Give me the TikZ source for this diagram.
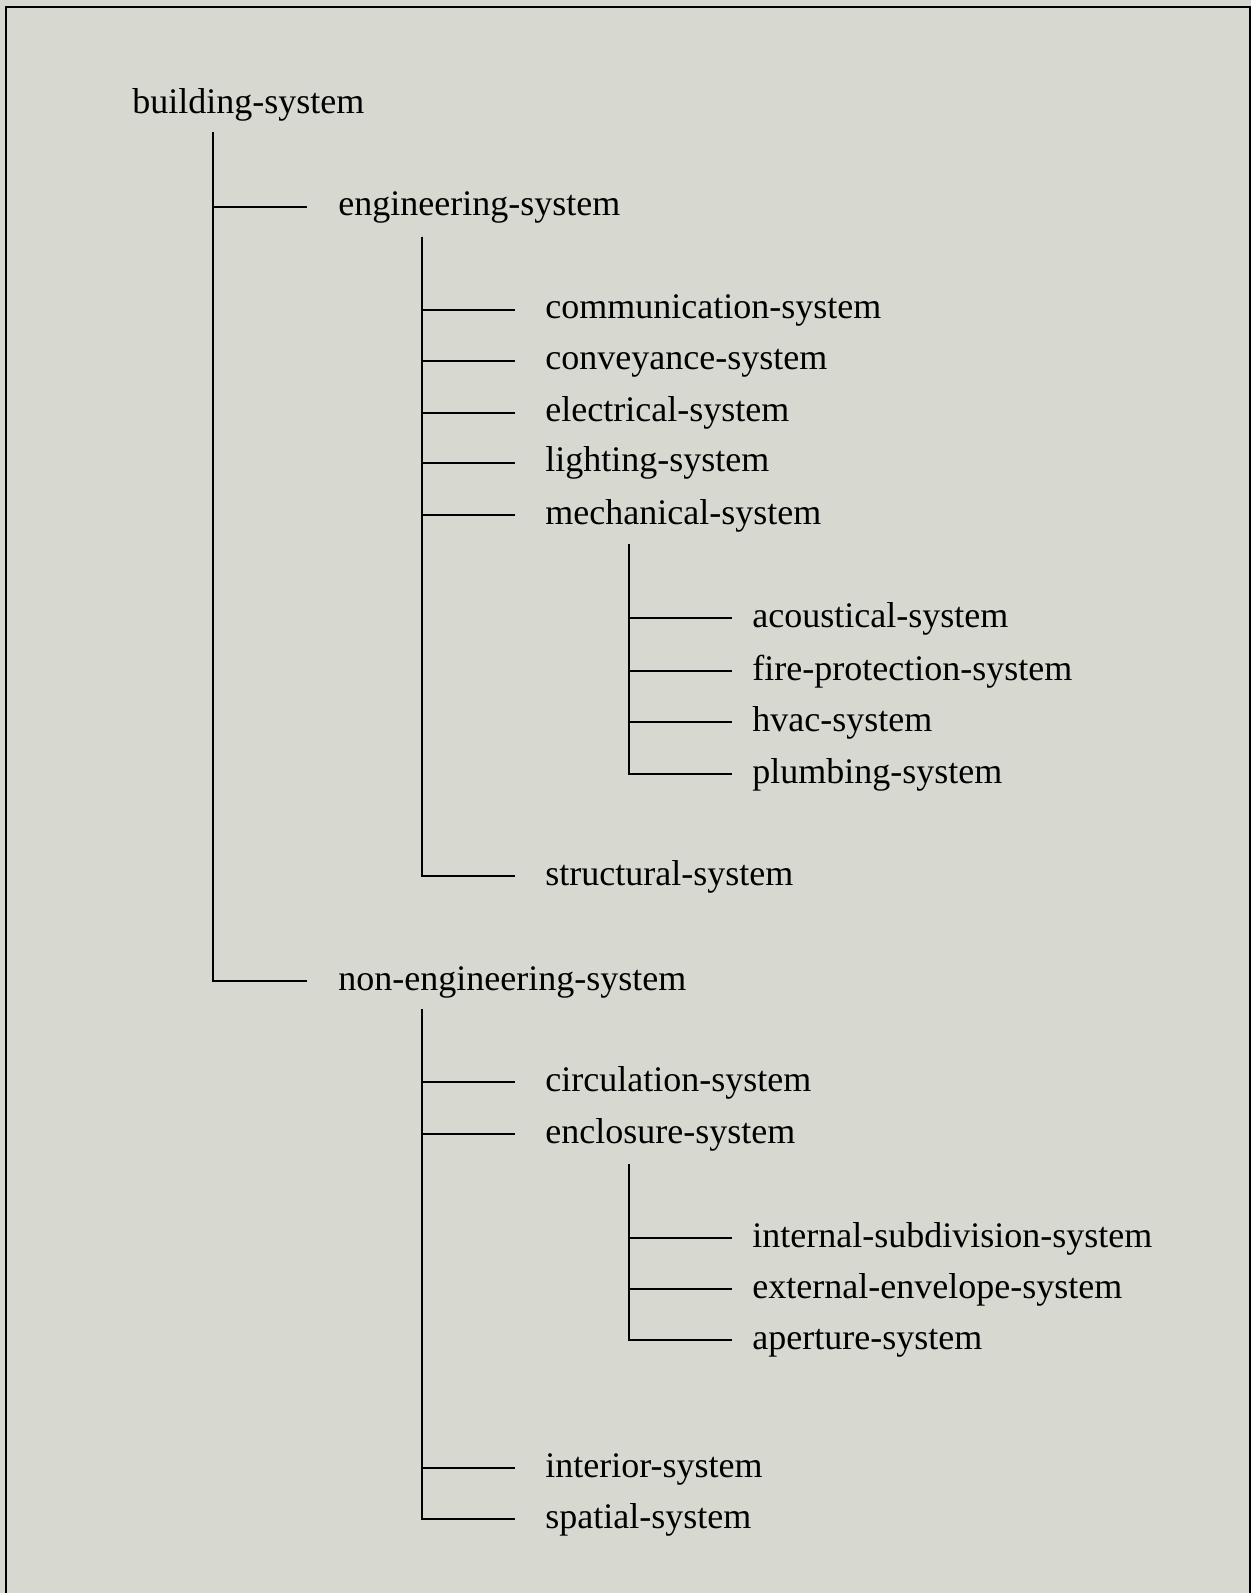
\documentclass[tikz,border=0pt]{standalone}
\usepackage{fontspec}
\setmainfont{Liberation Serif}
\definecolor{paper}{HTML}{D7D8D0}
\tikzset{
  item/.style={anchor=base west, inner sep=0pt, yshift=-4.5pt, font=\fontsize{18}{22}\selectfont},
  branch/.style={line width=0.7pt},
}
\begin{document}
\begin{tikzpicture}[x=0.5pt,y=-0.5pt]
        \useasboundingbox (0,0) rectangle (1251,1593);
        %% Page and frame
        \fill[paper] (0,0) rectangle (1251,1593);
        \draw[line width=0.9pt] (6,1593) -- (6,7) -- (1250,7) -- (1250,1593);
        %% Labels
        \node[item] (bld) at (132,105) {building-system};
        \node[item] (eng) at (338,207) {engineering-system};
        \node[item] (comm) at (545,310) {communication-system};
        \node[item] (conv) at (545,361) {conveyance-system};
        \node[item] (elec) at (545,413) {electrical-system};
        \node[item] (light) at (545,463) {lighting-system};
        \node[item] (mech) at (545,515) {mechanical-system};
        \node[item] (acou) at (752,618) {acoustical-system};
        \node[item] (fire) at (752,671) {fire-protection-system};
        \node[item] (hvac) at (752,722) {hvac-system};
        \node[item] (plumb) at (752,774) {plumbing-system};
        \node[item] (struct) at (545,876) {structural-system};
        \node[item] (noneng) at (338,981) {non-engineering-system};
        \node[item] (circ) at (545,1082) {circulation-system};
        \node[item] (encl) at (545,1134) {enclosure-system};
        \node[item] (intsub) at (752,1238) {internal-subdivision-system};
        \node[item] (extenv) at (752,1289) {external-envelope-system};
        \node[item] (apert) at (752,1340) {aperture-system};
        \node[item] (inter) at (545,1468) {interior-system};
        \node[item] (spat) at (545,1519) {spatial-system};
        %% Trunks
        \coordinate (bld-t) at (213,132);
        \coordinate (eng-t) at (422,237);
        \coordinate (mech-t) at (629,544);
        \coordinate (noneng-t) at (422,1009);
        \coordinate (encl-t) at (629,1164);
        %% Branches
        \draw[branch] (bld-t) |- ([xshift=-15.5pt,yshift=4.5pt]eng.base west);
        \draw[branch] (bld-t) |- ([xshift=-15.5pt,yshift=4.5pt]noneng.base west);
        \draw[branch] (eng-t) |- ([xshift=-15pt,yshift=4.5pt]comm.base west);
        \draw[branch] (eng-t) |- ([xshift=-15pt,yshift=4.5pt]conv.base west);
        \draw[branch] (eng-t) |- ([xshift=-15pt,yshift=4.5pt]elec.base west);
        \draw[branch] (eng-t) |- ([xshift=-15pt,yshift=4.5pt]light.base west);
        \draw[branch] (eng-t) |- ([xshift=-15pt,yshift=4.5pt]mech.base west);
        \draw[branch] (eng-t) |- ([xshift=-15pt,yshift=4.5pt]struct.base west);
        \draw[branch] (mech-t) |- ([xshift=-10pt,yshift=4.5pt]acou.base west);
        \draw[branch] (mech-t) |- ([xshift=-10pt,yshift=4.5pt]fire.base west);
        \draw[branch] (mech-t) |- ([xshift=-10pt,yshift=4.5pt]hvac.base west);
        \draw[branch] (mech-t) |- ([xshift=-10pt,yshift=4.5pt]plumb.base west);
        \draw[branch] (noneng-t) |- ([xshift=-15pt,yshift=4.5pt]circ.base west);
        \draw[branch] (noneng-t) |- ([xshift=-15pt,yshift=4.5pt]encl.base west);
        \draw[branch] (noneng-t) |- ([xshift=-15pt,yshift=4.5pt]inter.base west);
        \draw[branch] (noneng-t) |- ([xshift=-15pt,yshift=4.5pt]spat.base west);
        \draw[branch] (encl-t) |- ([xshift=-10pt,yshift=4.5pt]intsub.base west);
        \draw[branch] (encl-t) |- ([xshift=-10pt,yshift=4.5pt]extenv.base west);
        \draw[branch] (encl-t) |- ([xshift=-10pt,yshift=4.5pt]apert.base west);
\end{tikzpicture}
\end{document}
